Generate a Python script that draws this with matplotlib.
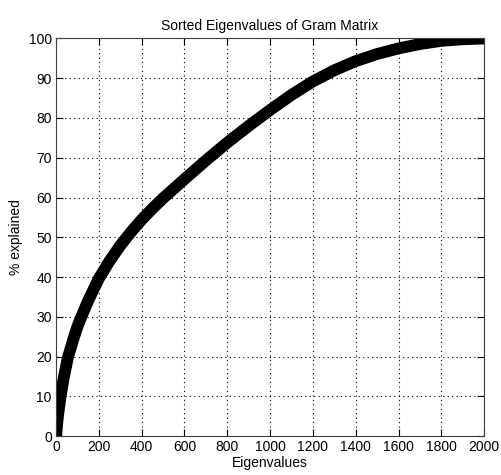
import matplotlib
matplotlib.use('Agg')
import matplotlib.pyplot as plt

# values (cumulative % explained vs. eigenvalue index)
eig_idx = [1, 5, 10, 20, 35, 55, 80, 100, 120, 150, 200, 250, 300, 350, 400, 450, 500,
           600, 700, 800, 900, 1000, 1100, 1200, 1300, 1400, 1500, 1600, 1700, 1800, 1900, 2000]
pct_explained = [0, 2.8, 5.3, 9.4, 14.3, 19.6, 24.2, 27.5, 30.2, 34.0, 39.6, 44.0, 47.9, 51.3,
                 54.4, 57.2, 59.8, 64.6, 69.3, 73.8, 78.0, 82.0, 85.8, 89.2, 92.0, 94.3, 96.1,
                 97.5, 98.6, 99.4, 99.8, 100]

xticks = list(range(0, 2001, 200))
yticks = list(range(0, 101, 10))

plt.rcParams['font.family'] = ['Liberation Sans', 'DejaVu Sans']

fig = plt.figure(figsize=(5.02, 4.75), dpi=100)
ax = fig.add_axes([0.1115, 0.082, 0.853, 0.837])

ax.plot(eig_idx, pct_explained, color='black', linewidth=8.5,
        solid_capstyle='round', solid_joinstyle='round')

ax.set_xlim(0, 2000)
ax.set_ylim(0, 100)
ax.set_xticks(xticks)
ax.set_yticks(yticks)
ax.grid(True, linestyle=(0, (1, 3)), color='black', linewidth=0.8)
ax.tick_params(direction='in', top=True, right=True, labelsize=10, length=5, pad=3)
for s in ax.spines.values():
    s.set_color('#404040')

ax.set_title('Sorted Eigenvalues of Gram Matrix', fontsize=10, pad=6)
ax.set_xlabel('Eigenvalues', fontsize=10, labelpad=1)
ax.set_ylabel('% explained', fontsize=10, labelpad=4)

fig.savefig('out.png', dpi=100)
